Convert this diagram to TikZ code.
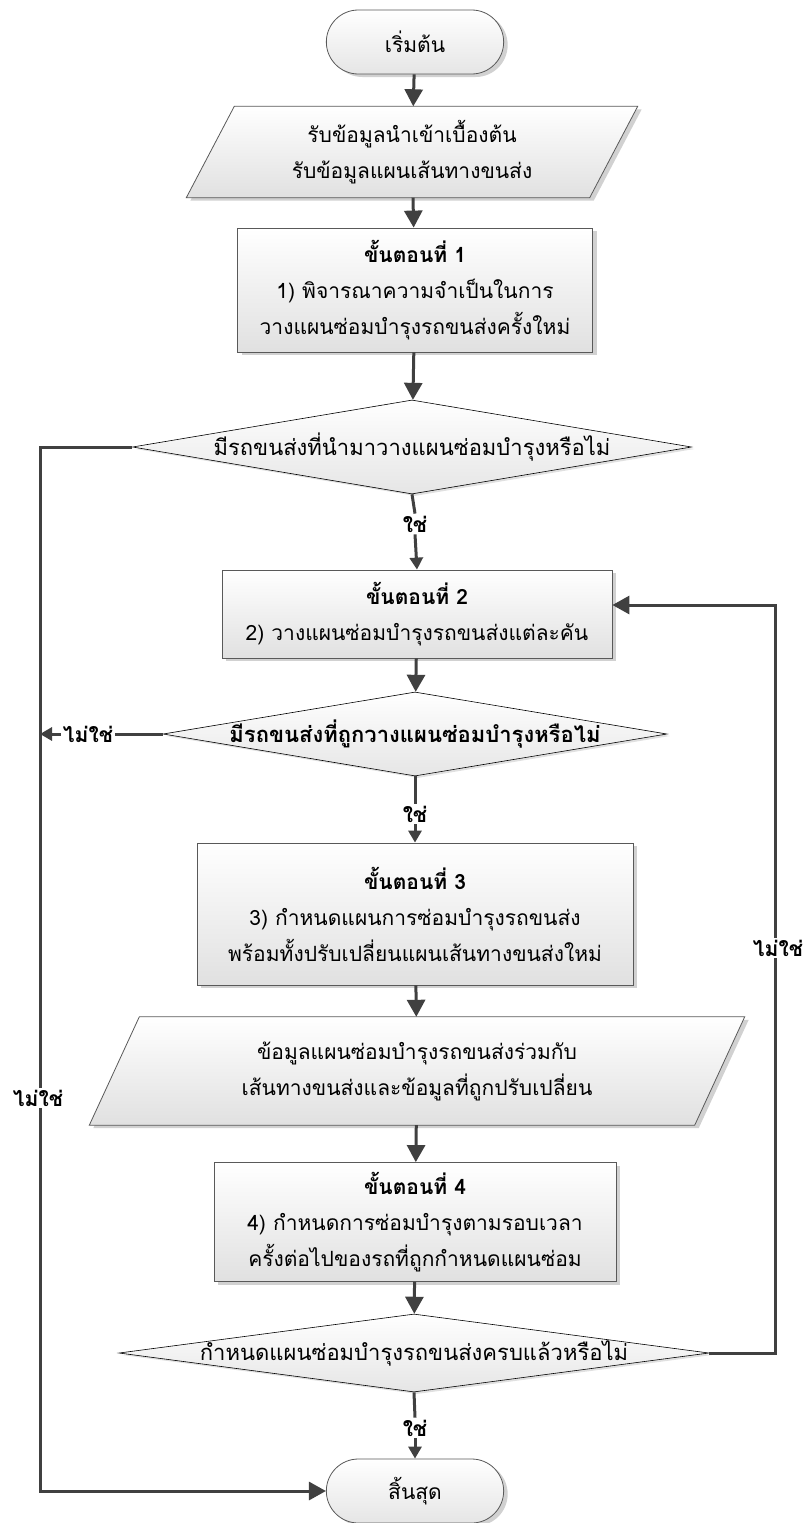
\documentclass[tikz,border=0pt]{standalone}
\usepackage{fontspec}
\newfontfamily\thai[Script=Thai]{Loma}
\usetikzlibrary{shapes.geometric,shapes.misc,arrows.meta,shadows}

\begin{document}
\begin{tikzpicture}[x=1pt,y=-1pt,
  every node/.style={font=\thai\fontsize{21}{36}\selectfont, text=black},
  softshadow/.style={drop shadow={shadow xshift=4pt,shadow yshift=-3pt,fill=black!18,opacity=1}},
  stepbox/.style={rectangle, draw=black!65, line width=0.8pt, top color=white, bottom color=black!12,
                  softshadow, align=center, inner sep=0pt},
  term/.style={rounded rectangle, draw=black!65, line width=0.8pt, top color=white, bottom color=black!10,
               minimum width=184pt, minimum height=64pt, softshadow},
  decision/.style={diamond, draw=black, line width=0.6pt, top color=white, bottom color=black!10,
                   inner sep=0pt, drop shadow={shadow xshift=3pt,shadow yshift=-2pt,fill=black!12,opacity=1}},
  dtext/.style={font=\thai\fontsize{22}{26}\selectfont},
  dtextbold/.style={font=\thai\bfseries\fontsize{22}{26}\selectfont},
  slab/.style={rectangle, inner sep=0pt, align=center},
  para/.style={draw=black!65, line width=0.8pt, top color=white, bottom color=black!12},
  parashadow/.style={fill=black!18, draw=none},
  flow/.style={draw=black!75, line width=3pt},
  arr/.style={flow, -{Triangle[width=18pt,length=17pt]}},
  arrsmall/.style={flow, -{Triangle[width=13pt,length=12pt]}},
  tag/.style={font=\thai\bfseries\fontsize{21}{24}\selectfont, inner sep=2pt},
]
\useasboundingbox (0,0) rectangle (803,1523);

% ---------- start ----------
\node[term] (start) at (415,42) {เริ่มต้น};

% ---------- input data (parallelogram) ----------
\node[slab, minimum width=451pt, minimum height=91pt] (in1) at (412,152) {};
\fill[parashadow] ([xshift=52pt,yshift=-3pt]in1.north west) -- ([xshift=4pt,yshift=-3pt]in1.north east)
   -- ([xshift=-44pt,yshift=-3pt]in1.south east) -- ([xshift=4pt,yshift=-3pt]in1.south west) -- cycle;
\draw[para] ([xshift=48pt]in1.north west) -- (in1.north east) -- ([xshift=-48pt]in1.south east) -- (in1.south west) -- cycle;
\node[align=center] at (in1) {รับข้อมูลนำเข้าเบื้องต้น\\รับข้อมูลแผนเส้นทางขนส่ง};

% ---------- step 1 ----------
\node[stepbox, minimum width=355pt, minimum height=124pt] (s1) at (415,290)
  {\textbf{ขั้นตอนที่ 1}\\1) พิจารณาความจำเป็นในการ\\วางแผนซ่อมบำรุงรถขนส่งครั้งใหม่};

% ---------- decision 1 ----------
\node[decision, minimum width=559pt, minimum height=94pt] (d1) at (412,447) {};
\node[dtext] (d1t) at (d1) {มีรถขนส่งที่นำมาวางแผนซ่อมบำรุงหรือไม่};
\node[tag] (yes1) at (415,524) {ใช่};

% ---------- step 2 ----------
\node[stepbox, minimum width=390pt, minimum height=88pt] (s2) at (417,614)
  {\textbf{ขั้นตอนที่ 2}\\2) วางแผนซ่อมบำรุงรถขนส่งแต่ละคัน};

% ---------- decision 2 ----------
\node[decision, minimum width=504pt, minimum height=84pt] (d2) at (415,734) {};
\node[dtextbold] (d2t) at (d2) {มีรถขนส่งที่ถูกวางแผนซ่อมบำรุงหรือไม่};
\node[tag] (no2) at (88,734) {ไม่ใช่};
\node[tag] (yes2) at (415,814) {ใช่};

% ---------- step 3 ----------
\node[stepbox, minimum width=436pt, minimum height=142pt] (s3) at (415,914)
  {\textbf{ขั้นตอนที่ 3}\\3) กำหนดแผนการซ่อมบำรุงรถขนส่ง\\พร้อมทั้งปรับเปลี่ยนแผนเส้นทางขนส่งใหม่};

% ---------- output data (parallelogram) ----------
\node[slab, minimum width=655pt, minimum height=108pt] (out) at (417,1071) {};
\fill[parashadow] ([xshift=54pt,yshift=-3pt]out.north west) -- ([xshift=4pt,yshift=-3pt]out.north east)
   -- ([xshift=-46pt,yshift=-3pt]out.south east) -- ([xshift=4pt,yshift=-3pt]out.south west) -- cycle;
\draw[para] ([xshift=50pt]out.north west) -- (out.north east) -- ([xshift=-50pt]out.south east) -- (out.south west) -- cycle;
\node[align=center] at (out) {ข้อมูลแผนซ่อมบำรุงรถขนส่งร่วมกับ\\เส้นทางขนส่งและข้อมูลที่ถูกปรับเปลี่ยน};

% ---------- step 4 ----------
\node[stepbox, minimum width=402pt, minimum height=119pt] (s4) at (415,1222)
  {\textbf{ขั้นตอนที่ 4}\\4) กำหนดการซ่อมบำรุงตามรอบเวลา\\ครั้งต่อไปของรถที่ถูกกำหนดแผนซ่อม};

% ---------- decision 3 ----------
\node[decision, minimum width=590pt, minimum height=78pt] (d3) at (414,1353) {};
\node[dtext] (d3t) at (d3) {กำหนดแผนซ่อมบำรุงรถขนส่งครบแล้วหรือไม่};
\node[tag] (yes3) at (415,1428) {ใช่};

% ---------- end ----------
\node[term] (end) at (415,1491) {สิ้นสุด};

% ---------- loop-back corners ----------
\coordinate (lbot) at (40,1491);
\coordinate (rtop) at (775,605);

% ---------- main flow ----------
\draw[arr] (start) -- (in1);
\draw[arr] (in1) -- (s1);
\draw[arr] (s1) -- (d1);
\draw[flow] (d1.south) -- (yes1.north);
\draw[arrsmall] (yes1.south) -- (s2.north);
\draw[arr] (s2) -- (d2);
\draw[flow] (d2.south) -- (yes2.north);
\draw[arrsmall] (yes2.south) -- (s3.north);
\draw[arr] (s3) -- (out);
\draw[arr] (out) -- (s4);
\draw[arr] (s4) -- (d3);
\draw[flow] (d3.south) -- (yes3.north);
\draw[arrsmall] (yes3.south) -- (end.north);

% ---------- "no" branches ----------
\draw[arr] (d1.west) -| (lbot) -- (end.west);
\draw[flow] (d2.west) -- (no2.east);
\draw[arrsmall] (no2.west) -- (no2.west -| lbot);
\draw[arr] (d3.east) -| (rtop) -- (rtop -| s2.east);
\node[tag, fill=white] (noL) at (38,1098) {ไม่ใช่};
\node[tag, fill=white] (noR) at (778,948) {ไม่ใช่};
\end{tikzpicture}
\end{document}
